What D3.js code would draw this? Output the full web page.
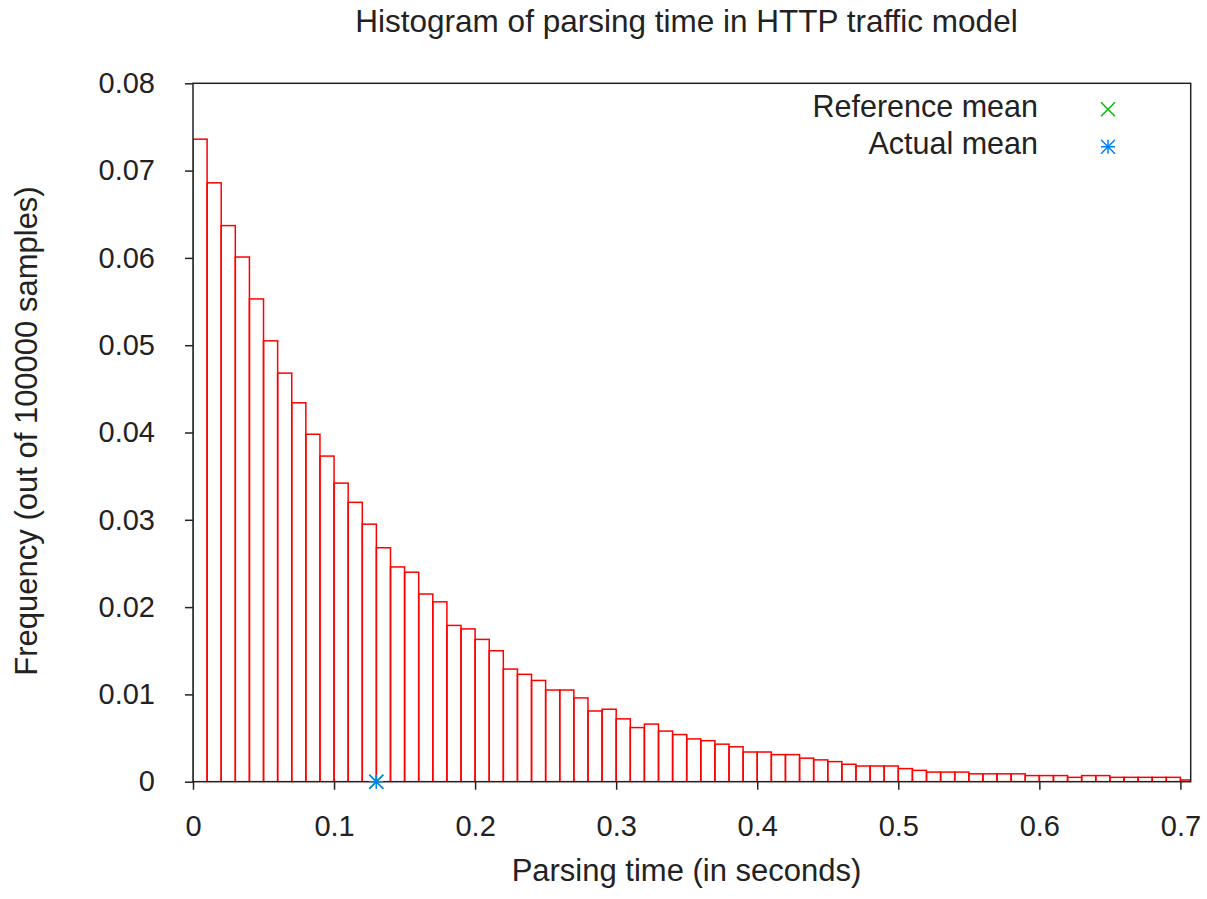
<!DOCTYPE html>
<html>
<head>
<meta charset="utf-8">
<script src="https://cdn.jsdelivr.net/npm/d3@7"></script>
<style>
  body { margin: 0; background: #fff; }
  svg { display: block; font-family: "Liberation Sans", Arial, sans-serif; }
  .tick text { fill: #222; }
</style>
</head>
<body>
<svg id="chart" width="1207" height="899"></svg>
<script>
// histogram values, one per 0.01 s bin starting at 0
var binWidth = 0.01;
var freq = [
  0.0736, 0.0686, 0.0637, 0.0601, 0.0553, 0.0505, 0.0468, 0.0434, 0.0398, 0.0373,
  0.0342, 0.0320, 0.0295, 0.0268, 0.0246, 0.0240, 0.0215, 0.0206, 0.0179, 0.0175,
  0.0163, 0.0150, 0.0129, 0.0123, 0.0116, 0.0105, 0.0105, 0.0096, 0.0081, 0.0083,
  0.0072, 0.0062, 0.0066, 0.0058, 0.0054, 0.0049, 0.0047, 0.0043, 0.0040, 0.0034,
  0.0034, 0.0031, 0.0031, 0.0027, 0.0025, 0.0023, 0.0020, 0.0018, 0.0018, 0.0018,
  0.0015, 0.0013, 0.0011, 0.0011, 0.0011, 0.0009, 0.0009, 0.0009, 0.0009, 0.0007,
  0.0007, 0.0007, 0.0005, 0.0007, 0.0007, 0.0005, 0.0005, 0.0005, 0.0005, 0.0005,
  0.0002
];
var xTicks = [0, 0.1, 0.2, 0.3, 0.4, 0.5, 0.6, 0.7];
var yTicks = [0, 0.01, 0.02, 0.03, 0.04, 0.05, 0.06, 0.07, 0.08];
var xMax = 0.7073;
var referenceMean = 0.13;
var actualMean = 0.1299;
var legendItems = ["Reference mean", "Actual mean"];

var svg = d3.select("#chart");
var pLeft = 193, pRight = 1190.7, pTop = 83.3, pBottom = 781.7;

var x = d3.scaleLinear().domain([0, xMax]).range([pLeft, pRight]);
var y = d3.scaleLinear().domain([0, 0.08]).range([pBottom, pTop]);

svg.append("clipPath").attr("id", "plotclip")
  .append("rect")
  .attr("x", pLeft).attr("y", pTop)
  .attr("width", pRight - pLeft).attr("height", pBottom - pTop);

// bars
svg.append("g")
  .attr("clip-path", "url(#plotclip)")
  .selectAll("rect").data(freq).enter().append("rect")
  .attr("x", (d, i) => x(i * binWidth))
  .attr("width", x(binWidth) - x(0))
  .attr("y", d => y(d))
  .attr("height", d => y(0) - y(d))
  .attr("fill", "none")
  .attr("stroke", "#ff0000")
  .attr("stroke-width", 1.5);

// axes
var xAxis = d3.axisBottom(x).tickValues(xTicks)
  .tickFormat(d => d === 0 ? "0" : d.toFixed(1))
  .tickSize(8).tickPadding(26);
var yAxis = d3.axisLeft(y).tickValues(yTicks)
  .tickFormat(d => d === 0 ? "0" : d.toFixed(2))
  .tickSize(8).tickPadding(30);

var gx = svg.append("g").attr("transform", "translate(0," + pBottom + ")").call(xAxis);
var gy = svg.append("g").attr("transform", "translate(" + pLeft + ",0)").call(yAxis);
[gx, gy].forEach(function(g){
  g.select(".domain").remove();
  g.selectAll(".tick line").attr("stroke", "#222").attr("stroke-width", 1.5);
  g.selectAll(".tick text").attr("font-size", 29).attr("font-family", "Liberation Sans, Arial, sans-serif");
});

// frame
svg.append("rect")
  .attr("x", pLeft).attr("y", pTop)
  .attr("width", pRight - pLeft).attr("height", pBottom - pTop)
  .attr("fill", "none")
  .attr("stroke", "#222")
  .attr("stroke-width", 1.5);

// markers
function xMark(g, cx, cy, s, color){
  g.append("path")
    .attr("d", "M" + (cx - s) + "," + (cy - s) + "L" + (cx + s) + "," + (cy + s) +
               "M" + (cx - s) + "," + (cy + s) + "L" + (cx + s) + "," + (cy - s))
    .attr("stroke", color).attr("stroke-width", 1.5).attr("fill", "none");
}
function starMark(g, cx, cy, s, color){
  xMark(g, cx, cy, s, color);
  g.append("path")
    .attr("d", "M" + (cx - s) + "," + cy + "L" + (cx + s) + "," + cy +
               "M" + cx + "," + (cy - s) + "L" + cx + "," + (cy + s))
    .attr("stroke", color).attr("stroke-width", 1.5).attr("fill", "none");
}

var marks = svg.append("g");
xMark(marks, x(referenceMean), y(0), 7, "#00c000");
starMark(marks, x(actualMean), y(0), 7, "#0080ff");

// legend
var legend = svg.append("g");
legend.selectAll("text").data(legendItems).enter().append("text")
  .attr("x", 1038)
  .attr("y", (d, i) => 116.7 + i * 37.5)
  .attr("text-anchor", "end")
  .attr("font-size", 30.5)
  .attr("fill", "#222")
  .text(d => d);
xMark(legend, 1108, 109.3, 7, "#00c000");
starMark(legend, 1108, 146.7, 7, "#0080ff");

// titles
svg.append("text")
  .attr("x", 686.5).attr("y", 31.5)
  .attr("text-anchor", "middle")
  .attr("font-size", 31.5)
  .attr("fill", "#222")
  .text("Histogram of parsing time in HTTP traffic model");

svg.append("text")
  .attr("x", 686.5).attr("y", 881)
  .attr("text-anchor", "middle")
  .attr("font-size", 31)
  .attr("fill", "#222")
  .text("Parsing time (in seconds)");

svg.append("text")
  .attr("transform", "translate(37,431) rotate(-90)")
  .attr("text-anchor", "middle")
  .attr("font-size", 31)
  .attr("fill", "#222")
  .text("Frequency (out of 100000 samples)");
</script>
</body>
</html>
